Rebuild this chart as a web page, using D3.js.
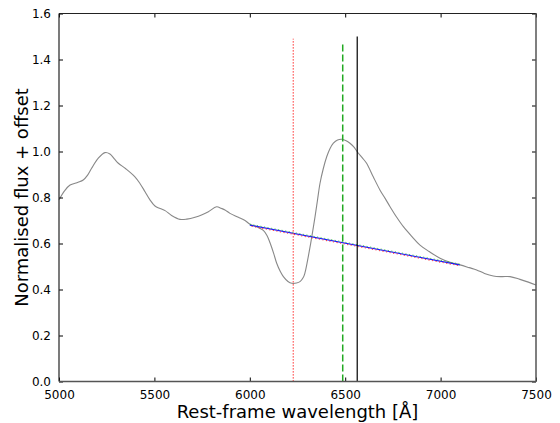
<!DOCTYPE html>
<html>
<head>
<meta charset="utf-8">
<script src="https://cdn.jsdelivr.net/npm/d3@7"></script>
<style>
html,body{margin:0;padding:0;background:#fff;}
svg{display:block;font-family:"DejaVu Sans",sans-serif;}
</style>
</head>
<body>
<svg id="chart" width="560" height="423"></svg>
<script>
const wavelength = [5000,5030,5058,5100,5127,5150,5171,5205,5241,5267,5290,5311,5350,5398,5425,5451,5475,5503,5530,5556,5590,5634,5670,5713,5750,5783,5826,5850,5870,5896,5940,5975,6001,6040,6071,6090,6106,6125,6141,6160,6176,6200,6220,6245,6263,6280,6289,6300,6316,6330,6342,6355,6368,6385,6403,6420,6438,6460,6482,6505,6525,6545,6563,6590,6612,6647,6682,6710,6735,6770,6805,6850,6892,6940,6997,7050,7102,7150,7189,7230,7276,7320,7364,7416,7460,7500];
const flux = [0.790,0.830,0.854,0.866,0.876,0.897,0.927,0.970,0.995,0.989,0.968,0.949,0.925,0.890,0.860,0.825,0.792,0.763,0.752,0.743,0.722,0.705,0.706,0.714,0.725,0.738,0.760,0.753,0.746,0.731,0.714,0.700,0.684,0.672,0.657,0.635,0.603,0.557,0.514,0.478,0.456,0.435,0.427,0.428,0.434,0.452,0.472,0.515,0.586,0.655,0.717,0.790,0.862,0.925,0.977,1.012,1.036,1.050,1.053,1.047,1.036,1.020,0.999,0.972,0.949,0.890,0.833,0.795,0.760,0.714,0.673,0.630,0.593,0.565,0.536,0.518,0.507,0.495,0.485,0.470,0.459,0.456,0.456,0.444,0.432,0.420];
const continuumX = [6000, 7100];
const continuumY = [0.680, 0.507];
const markerX = [6228, 6487, 6563];
const markerTop = [1.49, 1.475, 1.5];
const xTicks = [5000,5500,6000,6500,7000,7500];
const yTicks = [0,0.2,0.4,0.6,0.8,1.0,1.2,1.4,1.6];

const svg = d3.select("#chart");
const L = 59, R = 536, T = 13.5, B = 381.5;
const x = d3.scaleLinear().domain([5000,7500]).range([L,R]);
const y = d3.scaleLinear().domain([0,1.6]).range([B,T]);

const spec = wavelength.map((w,i)=>[w,flux[i]]);
const line = d3.line().x(d=>x(d[0])).y(d=>y(d[1])).curve(d3.curveCatmullRom.alpha(0.5));
svg.append("path").attr("d",line(spec)).attr("fill","none").attr("stroke","#888").attr("stroke-width",1.1);

const cont = continuumX.map((w,i)=>[w,continuumY[i]]);
const sline = d3.line().x(d=>x(d[0])).y(d=>y(d[1]));
svg.append("path").attr("d",sline(cont)).attr("fill","none").attr("stroke","#1a1aff").attr("stroke-width",1.1);
svg.append("path").attr("d",sline(cont)).attr("transform","translate(0,-0.9)").attr("fill","none").attr("stroke","#33bb33").attr("stroke-width",1).attr("stroke-dasharray","1.2,2.4").attr("opacity",0.8);
svg.append("path").attr("d",sline(cont)).attr("transform","translate(0,0.9)").attr("fill","none").attr("stroke","#ff3333").attr("stroke-width",1.1).attr("stroke-dasharray","1.2,2.4").attr("stroke-dashoffset",1.8).attr("opacity",0.9);

// vertical markers
const mstyles = [
  {c:"#ff4d4d", w:1.4, d:"1.3,1.7"},
  {c:"#22aa22", w:1.5, d:"7,3"},
  {c:"#000000", w:1.2, d:null}
];
markerX.forEach((m,i)=>{
  const s = mstyles[i];
  const ln = svg.append("line").attr("x1",x(m)).attr("x2",x(m)).attr("y1",y(0)).attr("y2",y(markerTop[i]))
    .attr("stroke",s.c).attr("stroke-width",s.w);
  if (s.d) ln.attr("stroke-dasharray",s.d);
});

// axes frame
const xAxisB = d3.axisBottom(x).tickValues(xTicks).tickSizeInner(-4).tickSizeOuter(0).tickPadding(9).tickFormat(d3.format("d"));
const xAxisT = d3.axisTop(x).tickValues(xTicks).tickSizeInner(-4).tickSizeOuter(0).tickFormat("");
const yAxisL = d3.axisLeft(y).tickValues(yTicks).tickSizeInner(-4).tickSizeOuter(0).tickPadding(8).tickFormat(d3.format(".1f"));
const yAxisR = d3.axisRight(y).tickValues(yTicks).tickSizeInner(-4).tickSizeOuter(0).tickFormat("");

function style(g){
  g.select(".domain").remove();
  g.selectAll(".tick line").attr("stroke","#000").attr("stroke-width",1);
  g.selectAll(".tick text").attr("fill","#000").attr("font-size","12px").attr("font-family","DejaVu Sans");
}
svg.append("g").attr("transform",`translate(0,${B})`).call(xAxisB).call(style);
svg.append("g").attr("transform",`translate(0,${T})`).call(xAxisT).call(style);
svg.append("g").attr("transform",`translate(${L},0)`).call(yAxisL).call(style);
svg.append("g").attr("transform",`translate(${R},0)`).call(yAxisR).call(style);

svg.append("line").attr("x1",L).attr("x2",R).attr("y1",T).attr("y2",T).attr("stroke","#222").attr("stroke-width",1.2);
svg.append("line").attr("x1",L).attr("x2",L).attr("y1",T).attr("y2",B).attr("stroke","#222").attr("stroke-width",1.2);
svg.append("line").attr("x1",R).attr("x2",R).attr("y1",T).attr("y2",B).attr("stroke","#555").attr("stroke-width",1.5);
svg.append("line").attr("x1",L).attr("x2",R).attr("y1",B).attr("y2",B).attr("stroke","#555").attr("stroke-width",1.5);

svg.append("text").attr("x",(L+R)/2).attr("y",418).attr("text-anchor","middle")
  .attr("font-size","18px").attr("fill","#000").text("Rest-frame wavelength [Å]");
svg.append("text").attr("transform",`translate(28,${(T+B)/2}) rotate(-90)`).attr("text-anchor","middle")
  .attr("font-size","18px").attr("fill","#000").text("Normalised flux + offset");
</script>
</body>
</html>
